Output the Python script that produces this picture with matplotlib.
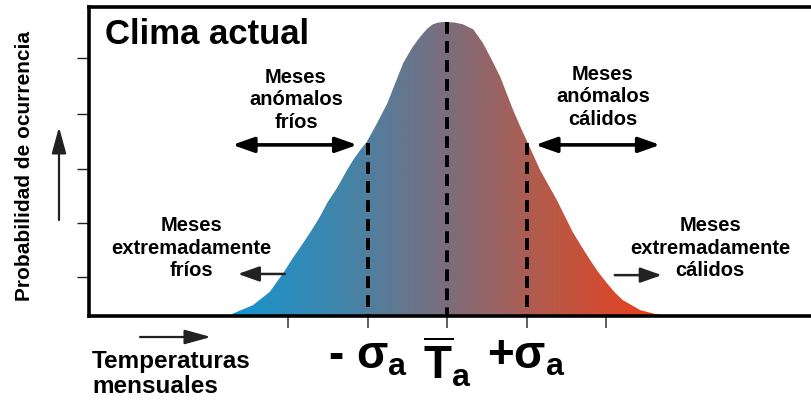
import numpy as np
import matplotlib
matplotlib.use("Agg")
import matplotlib.pyplot as plt
from matplotlib.patches import FancyArrowPatch, Polygon
from matplotlib.colors import LinearSegmentedColormap

plt.rcParams['font.family'] = ['Liberation Sans', 'DejaVu Sans']
plt.rcParams['font.weight'] = 'bold'
plt.rcParams['mathtext.fontset'] = 'custom'
plt.rcParams['mathtext.rm'] = 'Liberation Sans:bold'
plt.rcParams['mathtext.it'] = 'Liberation Sans:bold'
plt.rcParams['mathtext.bf'] = 'Liberation Sans:bold'
plt.rcParams['mathtext.sf'] = 'Liberation Sans:bold'
plt.rcParams['lines.scale_dashes'] = False

# ---- data (x in units of sigma, y relative to peak) ----
curve_x = [-2.77, -2.73, -2.44, -2.23, -2.06, -1.94, -1.81, -1.70, -1.60, -1.50,
           -1.38, -1.28, -1.18, -1.09, -1.01, -0.88, -0.75, -0.65, -0.55, -0.44,
           -0.34, -0.25, -0.18, -0.11, -0.05, 0.0, 0.10, 0.20, 0.33, 0.45,
           0.55, 0.67, 0.83, 0.92, 1.01, 1.17, 1.27, 1.38, 1.58, 1.69,
           1.80, 1.90, 2.01, 2.11, 2.21, 2.43, 2.60, 2.77]
curve_y = [0.0, 0.004, 0.037, 0.082, 0.146, 0.197, 0.248, 0.293, 0.337, 0.388,
           0.437, 0.486, 0.531, 0.565, 0.592, 0.656, 0.724, 0.793, 0.861, 0.912,
           0.949, 0.977, 0.992, 0.998, 1.0, 1.0, 0.998, 0.992, 0.975, 0.929,
           0.878, 0.813, 0.701, 0.645, 0.592, 0.497, 0.448, 0.395, 0.286, 0.237,
           0.190, 0.150, 0.112, 0.080, 0.054, 0.020, 0.008, 0.0]
sigma_positions = [-1, 0, 1]
sigma_tops = [0.59, 1.0, 0.59]
xtick_pos = [-2, -1, 0, 1, 2]
xtick_labels = ['', r'- $\sigma_a$', r'$\overline{T}_a$', r'+$\sigma_a$', '']
ytick_pos = [0.133, 0.316, 0.500, 0.687, 0.878]

title_text = 'Clima actual'
ylabel_text = 'Probabilidad de ocurrencia'
xlabel_text = 'Temperaturas\nmensuales'
label_anom_frios = 'Meses\nanómalos\nfríos'
label_anom_calidos = 'Meses\nanómalos\ncálidos'
label_ext_frios = 'Meses\nextremadamente\nfríos'
label_ext_calidos = 'Meses\nextremadamente\ncálidos'

W, H = 812, 400
fig = plt.figure(figsize=(W / 100, H / 100), dpi=100)
ax = fig.add_axes([89 / W, 84 / H, 723 / W, 309 / H])

# gradient-filled curve
cmap = LinearSegmentedColormap.from_list(
    'clima', [(0.0, '#1594d0'), (0.25, '#3f86ac'), (0.5, '#7c6d7c'),
              (0.72, '#b65a4a'), (1.0, '#f03c16')])
verts = list(zip(curve_x, curve_y))
poly = Polygon(verts, closed=True, facecolor='none', edgecolor='none')
ax.add_patch(poly)
grad = np.linspace(0, 1, 512)[None, :]
im = ax.imshow(grad, extent=[curve_x[0], curve_x[-1], 0, 1.05], aspect='auto',
               cmap=cmap, origin='lower', zorder=1, interpolation='bilinear')
im.set_clip_path(poly)

# dashed sigma / mean lines
for xp, top in zip(sigma_positions, sigma_tops):
    ax.plot([xp, xp], [top, 0], color='black', lw=2.8,
            dashes=(8.5, 5.2), zorder=3, solid_capstyle='butt')

ax.set_xlim(-4.503, 4.59)
ax.set_ylim(0, 1.051)

for s in ['left', 'bottom', 'top']:
    ax.spines[s].set_linewidth(2.6)
    ax.spines[s].set_color('black')
ax.spines['right'].set_visible(False)

ax.set_yticks(ytick_pos)
ax.set_yticklabels([])
ax.tick_params(axis='y', direction='out', length=8.6, width=1.0, color='#222222')
ax.set_xticks(xtick_pos)
ax.set_xticklabels(xtick_labels, fontsize=33, fontweight='bold')
ax.tick_params(axis='x', direction='out', length=8.6, width=1.1, color='#333333', pad=5)

# texts
ax.text(-4.30, 0.956, title_text, fontsize=25, fontweight='bold', ha='left', va='center')
ax.text(-1.90, 0.735, label_anom_frios, fontsize=14.5, ha='center', va='center',
        multialignment='center', linespacing=1.25)
ax.text(1.96, 0.745, label_anom_calidos, fontsize=14.5, ha='center', va='center',
        multialignment='center', linespacing=1.25)
ax.text(-3.22, 0.231, label_ext_frios, fontsize=14.5, ha='center', va='center',
        multialignment='center', linespacing=1.25)
ax.text(3.31, 0.231, label_ext_calidos, fontsize=14.5, ha='center', va='center',
        multialignment='center', linespacing=1.25)

fig.text(25 / W, 1 - 166 / H, ylabel_text, rotation=90, fontsize=15,
         ha='center', va='center')
fig.text(92 / W, 1 - 374 / H, xlabel_text, fontsize=17.5, ha='left', va='center',
         linespacing=1.1)

# arrows
def arrow(p0, p1, style, lw, color='black', transform=None, hl=0.65, hw=0.23):
    a = FancyArrowPatch(p0, p1, arrowstyle=f'{style},head_length={hl},head_width={hw}',
                        mutation_scale=20, lw=lw, color=color, shrinkA=0, shrinkB=0,
                        transform=transform if transform is not None else ax.transData,
                        zorder=4)
    if transform is fig.transFigure:
        fig.add_artist(a)
    else:
        ax.add_patch(a)

arrow((-2.70, 0.582), (-1.13, 0.582), '<|-|>', 2.6)
arrow((1.11, 0.582), (2.68, 0.582), '<|-|>', 2.6)
arrow((-2.04, 0.143), (-2.63, 0.143), '-|>', 1.8, color='#222222')
arrow((2.11, 0.139), (2.70, 0.139), '-|>', 1.8, color='#222222')

arrow((140 / W, 1 - 337 / H), (211 / W, 1 - 337 / H), '-|>', 1.6, color='#222222',
      transform=fig.transFigure, hl=0.8, hw=0.22)
arrow((59 / W, 1 - 220 / H), (59 / W, 1 - 127 / H), '-|>', 1.6, color='#222222',
      transform=fig.transFigure, hl=0.8, hw=0.22)

fig.savefig('out.png', dpi=100)
